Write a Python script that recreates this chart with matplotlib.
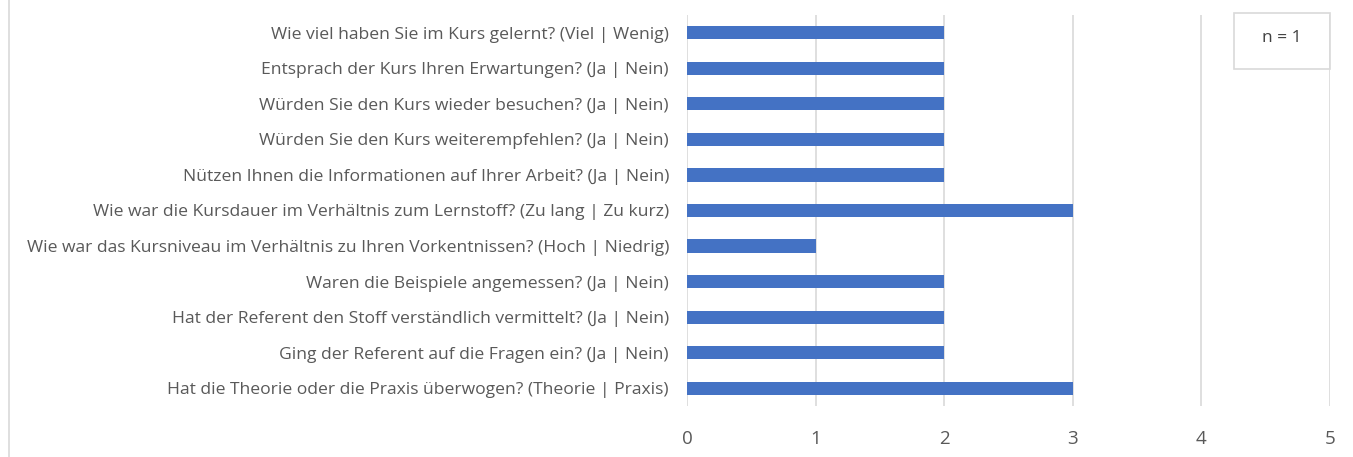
import matplotlib
matplotlib.use("Agg")
import matplotlib.pyplot as plt
from matplotlib.lines import Line2D

plt.rcParams["font.family"] = ["Open Sans", "DejaVu Sans"]

# Survey questions, top to bottom as shown
questions = [
    "Wie viel haben Sie im Kurs gelernt? (Viel | Wenig)",
    "Entsprach der Kurs Ihren Erwartungen? (Ja | Nein)",
    "Würden Sie den Kurs wieder besuchen? (Ja | Nein)",
    "Würden Sie den Kurs weiterempfehlen? (Ja | Nein)",
    "Nützen Ihnen die Informationen auf Ihrer Arbeit? (Ja | Nein)",
    "Wie war die Kursdauer im Verhältnis zum Lernstoff? (Zu lang | Zu kurz)",
    "Wie war das Kursniveau im Verhältnis zu Ihren Vorkentnissen? (Hoch | Niedrig)",
    "Waren die Beispiele angemessen? (Ja | Nein)",
    "Hat der Referent den Stoff verständlich vermittelt? (Ja | Nein)",
    "Ging der Referent auf die Fragen ein? (Ja | Nein)",
    "Hat die Theorie oder die Praxis überwogen? (Theorie | Praxis)",
]
scores = [2, 2, 2, 2, 2, 3, 1, 2, 2, 2, 3]
x_ticks = [0, 1, 2, 3, 4, 5]
n_text = "n = 1"

BAR = "#4472C4"
GRID = "#D9D9D9"
TEXT = "#595959"

W, H = 1353, 457
fig = plt.figure(figsize=(W / 100, H / 100), dpi=100)
ax = fig.add_axes([687 / W, 1 - 406 / H, (1330 - 687) / W, (406 - 15) / H])

pos = list(range(len(questions)))
ax.barh(pos, scores, height=0.37, color=BAR, zorder=3)
ax.set_ylim(len(questions) - 0.5, -0.5)
ax.set_xlim(0, 5)
ax.set_xticks(x_ticks)
ax.set_xticklabels([str(t) for t in x_ticks], fontsize=13.5, color=TEXT)
ax.set_yticks(pos)
ax.set_yticklabels(questions, fontsize=12.6, color=TEXT)
ax.tick_params(axis="both", length=0)
ax.tick_params(axis="x", pad=17)
ax.tick_params(axis="y", pad=13)
ax.grid(axis="x", color=GRID, linewidth=1.2, zorder=0)
for s in ax.spines.values():
    s.set_visible(False)

# n box in top right
fig.text(1282 / W, 1 - 38 / H, n_text, fontsize=12.5, color="#404040",
         ha="center", va="center")
box = plt.Rectangle((1234 / W, 1 - 69 / H), 96 / W, 56 / H,
                    transform=fig.transFigure, fill=False, ec=GRID, lw=1.2)
fig.add_artist(box)

# chart frame edge at left
fig.add_artist(Line2D([8.5 / W, 8.5 / W], [0, 1], transform=fig.transFigure,
                      color=GRID, lw=1.2))

fig.savefig("out.png", dpi=100)
